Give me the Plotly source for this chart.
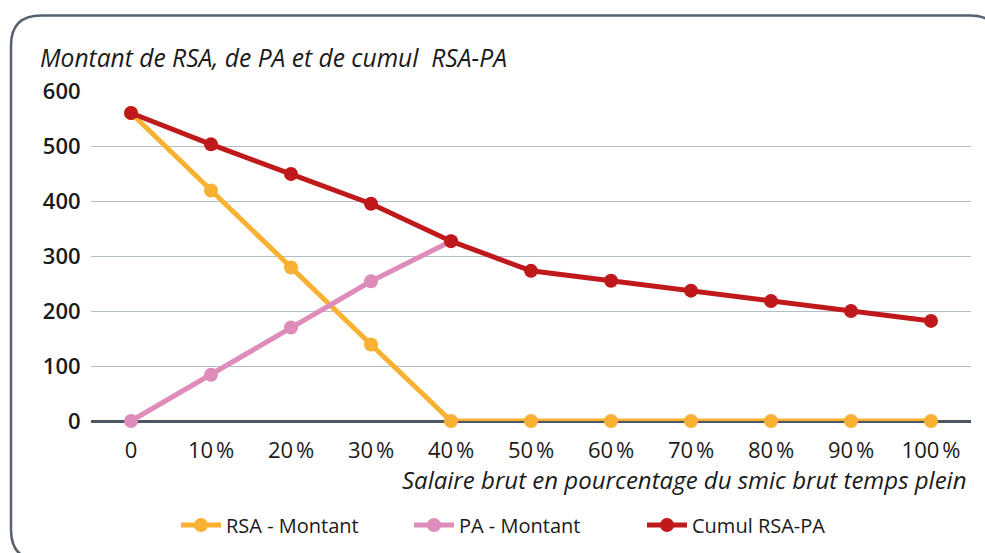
import plotly.graph_objects as go

categories = ["0", "10\u202f%", "20\u202f%", "30\u202f%", "40\u202f%", "50\u202f%",
              "60\u202f%", "70\u202f%", "80\u202f%", "90\u202f%", "100\u202f%"]
rsa_montant = [560, 419, 279, 139, 0, 0, 0, 0, 0, 0, 0]
pa_montant = [0, 84, 170, 254, 327, None, None, None, None, None, None]
cumul_rsa_pa = [560, 503, 449, 395, 327, 273, 255, 237, 218, 200, 182]
y_ticks = [0, 100, 200, 300, 400, 500, 600]

W, H = 985, 553
L, T, PW, PH = 91, 91, 880, 330
R, B = W - L - PW, H - T - PH


def px(x):  # page pixel -> paper x
    return (x - L) / PW


def py(y):  # page pixel -> paper y
    return (H - B - y) / PH


FONT = "Open Sans"
ORANGE = "#F8B133"
PINK = "#DE8CBA"
RED = "#C0191C"

fig = go.Figure()
for name, vals, col in [("RSA - Montant", rsa_montant, ORANGE),
                        ("PA - Montant", pa_montant, PINK),
                        ("Cumul RSA-PA", cumul_rsa_pa, RED)]:
    fig.add_trace(go.Scatter(
        x=categories, y=vals, name=name, mode="lines+markers",
        line=dict(color=col, width=5), marker=dict(color=col, size=14),
        cliponaxis=False, connectgaps=False))

# rounded frame (extends past the right and bottom edges of the view)
x0, x1, y0, y1, r = 11, 1000, 15.5, 560, 30
path = (f"M {px(x0 + r)},{py(y0)} L {px(x1 - r)},{py(y0)} "
        f"Q {px(x1)},{py(y0)} {px(x1)},{py(y0 + r)} "
        f"L {px(x1)},{py(y1 - r)} Q {px(x1)},{py(y1)} {px(x1 - r)},{py(y1)} "
        f"L {px(x0 + r)},{py(y1)} Q {px(x0)},{py(y1)} {px(x0)},{py(y1 - r)} "
        f"L {px(x0)},{py(y0 + r)} Q {px(x0)},{py(y0)} {px(x0 + r)},{py(y0)} Z")
fig.add_shape(type="path", path=path, xref="paper", yref="paper",
              line=dict(color="#566070", width=2.5), layer="below")

fig.add_annotation(text="<i>Montant de RSA, de PA et de cumul  RSA-PA</i>",
                   xref="paper", yref="paper", x=px(38), y=py(57),
                   xanchor="left", yanchor="middle", showarrow=False,
                   font=dict(family=FONT, size=24.6, color="#1a1a1a"))
fig.add_annotation(text="<i>Salaire brut en pourcentage du smic brut temps plein</i>",
                   xref="paper", yref="paper", x=px(968), y=py(479),
                   xanchor="right", yanchor="middle", showarrow=False,
                   font=dict(family=FONT, size=24, color="#1a1a1a"))

fig.update_layout(
    width=W, height=H,
    margin=dict(l=L, r=R, t=T, b=B, autoexpand=False),
    paper_bgcolor="white", plot_bgcolor="white",
    font=dict(family=FONT, color="#1a1a1a"),
    showlegend=True,
    legend=dict(orientation="h", xref="container", yref="container",
                x=176 / W, y=1 - 525 / H,
                xanchor="left", yanchor="middle", itemwidth=40,
                entrywidth=178, entrywidthmode="pixels",
                font=dict(size=20, family=FONT), bgcolor="rgba(0,0,0,0)"),
    xaxis=dict(type="category", range=[-0.5, 10.5], showgrid=False,
               automargin=False,
               showline=False, zeroline=False, ticks="outside", ticklen=10,
               tickcolor="rgba(0,0,0,0)", tickfont=dict(size=22, family=FONT)),
    yaxis=dict(range=[0, 600], tickvals=y_ticks, showgrid=True,
               automargin=False,
               gridcolor="#B5BCC9", gridwidth=1.2, zeroline=True,
               zerolinecolor="#4F5663", zerolinewidth=2.5, showline=False,
               ticks="outside", ticklen=5, tickcolor="rgba(0,0,0,0)",
               tickfont=dict(size=22, family=FONT, weight=600)),
)

fig.write_html("out.html",
               config={"displayModeBar": False},
               post_script="document.body.style.margin='0';"
                           "document.body.style.overflow='hidden';")
